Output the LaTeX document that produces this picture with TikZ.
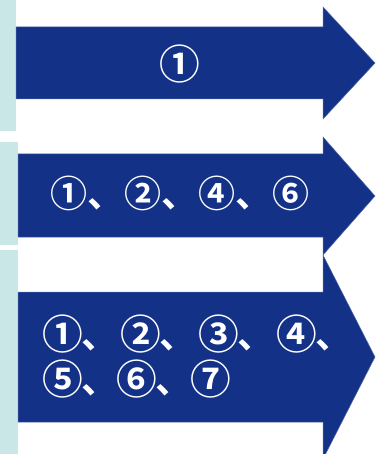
\documentclass[tikz,border=0pt]{standalone}
\usepackage{fontspec}
\usepackage{graphicx}
\newfontfamily\cjk{Noto Sans CJK JP}[BoldFont={Noto Sans CJK JP Bold}]
\newcommand\bigcn[1]{\makebox[1em][c]{\raisebox{-0.02em}{\scalebox{1.1}{#1}}}}
\definecolor{navy}{RGB}{19,49,134}
\definecolor{navyedge}{RGB}{80,105,170}
\definecolor{teal}{RGB}{201,231,231}
\begin{document}
\begin{tikzpicture}[x=1pt,y=-1pt,
  bar/.style={fill=teal,draw=none},
  arrowshape/.style={fill=navy,draw=navyedge,line width=0.5pt,line join=miter},
  lbl/.style={text=white,font=\cjk\bfseries\fontsize{37}{45}\selectfont,inner sep=0pt,outer sep=0pt}]
\useasboundingbox (0,0) rectangle (375,454);
% left bars
\path[bar] (0,0) rectangle (16,131);
\path[bar] (0,142) rectangle (18,245);
\path[bar] (0,250) rectangle (18,454);
% arrows
\path[arrowshape] (16,27) -- (323,27) -- (323,7) -- (375,63) -- (323,119) -- (323,99) -- (16,99) -- cycle;
\path[arrowshape] (18,154) -- (323,154) -- (323,137) -- (375,196) -- (323,255) -- (323,237) -- (18,237) -- cycle;
\path[arrowshape] (18,292) -- (323,292) -- (323,255) -- (375,357) -- (323,459) -- (323,422) -- (18,422) -- cycle;
% labels
\node[lbl] (t1) at (180,64) {\bigcn{①}};
\node[lbl,anchor=west] (t2) at (50,193) {①、②、④、⑥};
\node[lbl,anchor=west] (t3a) at (44,334) {\bigcn{①}、\hspace{4pt}\bigcn{②}、\hspace{4pt}\bigcn{③}、\hspace{4pt}\bigcn{④}、};
\node[lbl,anchor=west] (t3b) at (44,379) {\bigcn{⑤}、\bigcn{⑥}、\bigcn{⑦}};
\end{tikzpicture}
\end{document}
